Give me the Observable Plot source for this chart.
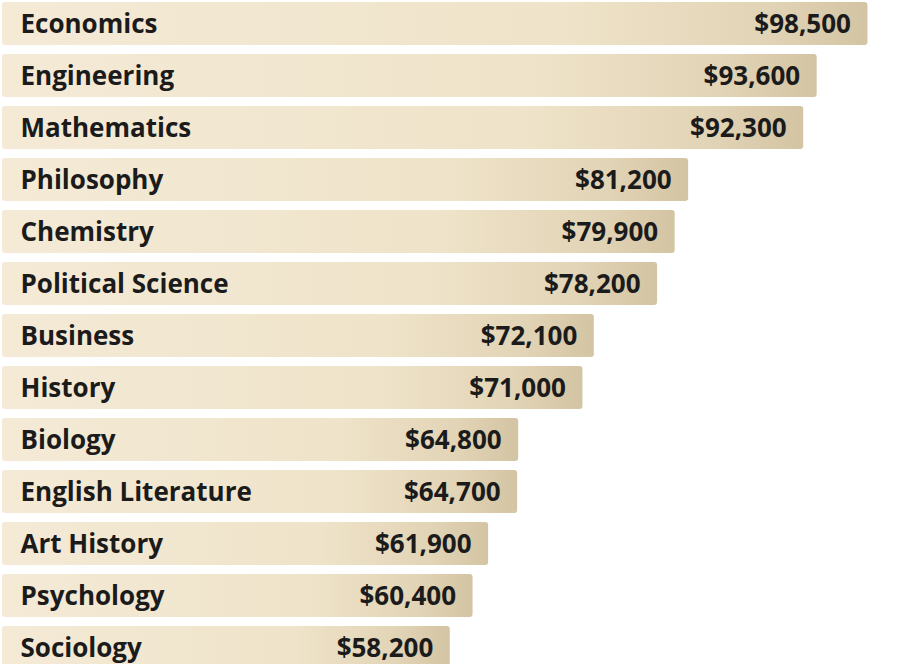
<!DOCTYPE html>
<html>
<head>
<meta charset="utf-8">
<script src="https://cdn.jsdelivr.net/npm/d3@7"></script>
<script src="https://cdn.jsdelivr.net/npm/@observablehq/plot@0.6"></script>
<style>
  html, body { margin: 0; padding: 0; background: #ffffff; }
  #chart svg { display: block; }
</style>
</head>
<body>
<div id="chart"></div>
<script>
const majors = ["Economics", "Engineering", "Mathematics", "Philosophy", "Chemistry",
  "Political Science", "Business", "History", "Biology", "English Literature",
  "Art History", "Psychology", "Sociology"];
const salaries = [98500, 93600, 92300, 81200, 79900, 78200, 72100, 71000, 64800, 64700, 61900, 60400, 58200];
const axisStart = 15000;

const data = majors.map((m, i) => ({major: m, salary: salaries[i], base: axisStart}));
const fmt = d => "$" + d3.format(",")(d);

const plot = Plot.plot({
  width: 907,
  height: 664,
  marginLeft: 2,
  marginRight: 24,
  marginTop: 0,
  marginBottom: 0,
  x: {domain: [axisStart, 100000], axis: null},
  y: {domain: majors, range: [1, 671], paddingInner: 0.17, paddingOuter: 0, axis: null},
  marks: [
    Plot.barX(data, {y: "major", x1: "base", x2: "salary", fill: "url(#barGrad)", rx: 3}),
    Plot.text(data, {y: "major", x: "base", text: "major", textAnchor: "start", dx: 18, dy: 1,
      fontSize: 26, fontWeight: "bold", fill: "#1b1b1b", fontFamily: "Open Sans"}),
    Plot.text(data, {y: "major", x: "salary", text: d => fmt(d.salary), textAnchor: "end", dx: -17, dy: 1,
      fontSize: 26, fontWeight: "bold", fill: "#1b1b1b", fontFamily: "Open Sans"})
  ]
});

const ns = "http://www.w3.org/2000/svg";
const defs = document.createElementNS(ns, "defs");
defs.innerHTML = `<linearGradient id="barGrad" x1="0" y1="0" x2="1" y2="0">
  <stop offset="0" stop-color="#f4ead6"/>
  <stop offset="0.65" stop-color="#efe3c9"/>
  <stop offset="0.88" stop-color="#e2d4b6"/>
  <stop offset="1" stop-color="#d3c4a3"/>
</linearGradient>`;
plot.insertBefore(defs, plot.firstChild);
document.getElementById("chart").appendChild(plot);
</script>
</body>
</html>
